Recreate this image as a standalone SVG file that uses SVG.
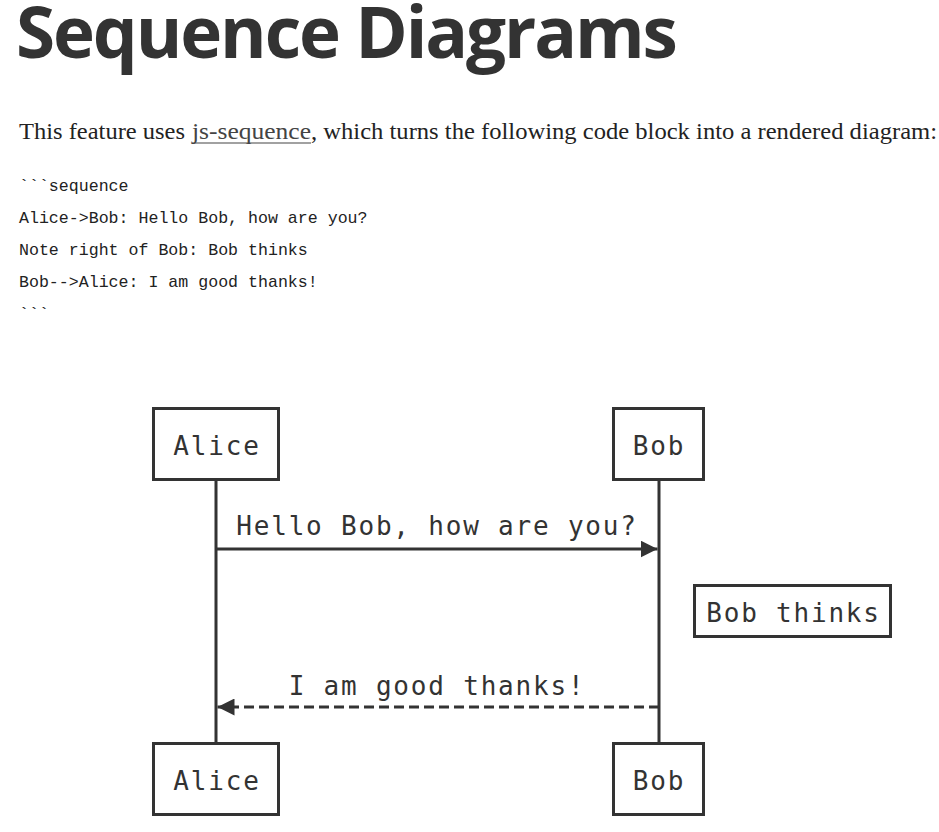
<svg xmlns="http://www.w3.org/2000/svg" width="939" height="832" viewBox="0 0 939 832">
<style>
.h{font-family:"Open Sans","Liberation Sans",sans-serif;font-weight:700;font-size:71px;fill:#333;letter-spacing:-2.1px}
.p{font-family:"Liberation Serif","DejaVu Serif",serif;font-size:23px;fill:#222}
.a{fill:#444}
.c{font-family:"Liberation Mono","DejaVu Sans Mono",monospace;font-size:16.6px;fill:#222}
.box{fill:#fff;stroke:#333;stroke-width:3}
.t{font-family:"DejaVu Sans Mono","Liberation Mono",monospace;font-size:26px;fill:#333;text-anchor:middle;letter-spacing:1.8px}
.life{stroke:#333;stroke-width:3;fill:none}
.msg{stroke:#333;stroke-width:3;fill:none}
.dash{stroke-dasharray:10,5}
</style>
<defs>
<marker id="arr" viewBox="0 0 17 17" markerWidth="17" markerHeight="17" refX="17" refY="8.5" orient="auto" markerUnits="userSpaceOnUse">
<path d="M0,0 L17,8.5 L0,17 z" fill="#333"/>
</marker>
</defs>
<rect width="939" height="832" fill="#fff"/>
<text class="h" x="16" y="58">Sequence Diagrams</text>
<text class="p" x="19" y="139" textLength="166" lengthAdjust="spacingAndGlyphs">This feature uses</text>
<text class="p a" x="192" y="139" textLength="119" lengthAdjust="spacingAndGlyphs">js-sequence</text>
<line x1="192" y1="143" x2="311" y2="143" stroke="#444" stroke-width="1.2"/>
<text class="p" x="311" y="139" textLength="626" lengthAdjust="spacingAndGlyphs">, which turns the following code block into a rendered diagram:</text>
<text class="c" x="19" y="191">```sequence</text>
<text class="c" x="19" y="223">Alice-&gt;Bob: Hello Bob, how are you?</text>
<text class="c" x="19" y="255">Note right of Bob: Bob thinks</text>
<text class="c" x="19" y="287">Bob--&gt;Alice: I am good thanks!</text>
<text class="c" x="19" y="319">```</text>
<g id="connectors">
<line class="life" x1="216" y1="481" x2="216" y2="743"/>
<line class="life" x1="659" y1="481" x2="659" y2="743"/>
<line class="msg" x1="216" y1="549" x2="657.5" y2="549" marker-end="url(#arr)"/>
<text class="t" x="437" y="535">Hello Bob, how are you?</text>
<line class="msg dash" x1="659" y1="707" x2="217.5" y2="707" marker-end="url(#arr)"/>
<text class="t" x="437" y="695">I am good thanks!</text>
</g>
<g id="alice-top"><rect class="box" x="153.5" y="408.5" width="125" height="71"/><text class="t" x="217" y="455">Alice</text></g>
<g id="bob-top"><rect class="box" x="613.5" y="408.5" width="90" height="71"/><text class="t" x="659" y="455">Bob</text></g>
<g id="note"><rect class="box" x="694.5" y="585.5" width="196" height="51"/><text class="t" x="793.5" y="622">Bob thinks</text></g>
<g id="alice-bottom"><rect class="box" x="153.5" y="743.5" width="125" height="71"/><text class="t" x="217" y="790">Alice</text></g>
<g id="bob-bottom"><rect class="box" x="613.5" y="743.5" width="90" height="71"/><text class="t" x="659" y="790">Bob</text></g>
</svg>
